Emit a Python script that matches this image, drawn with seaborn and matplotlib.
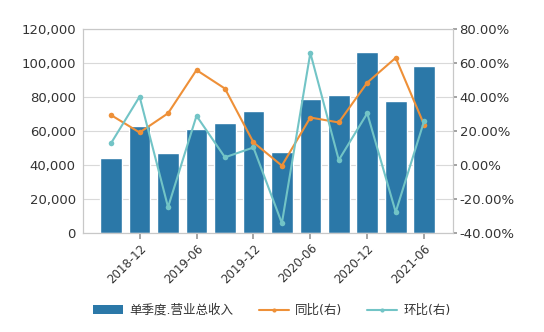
import numpy as np
import pandas as pd
import matplotlib
matplotlib.use("Agg")
import matplotlib.pyplot as plt
import seaborn as sns
from matplotlib.ticker import FuncFormatter
from matplotlib.patches import Patch
from matplotlib.lines import Line2D

quarters = ["2018-09", "2018-12", "2019-03", "2019-06", "2019-09", "2019-12",
            "2020-03", "2020-06", "2020-09", "2020-12", "2021-03", "2021-06"]
revenue = [44500, 63000, 47500, 61500, 64800, 72000,
           47600, 79200, 81500, 106700, 77900, 98300]
yoy = [29.5, 19.3, 30.6, 56.0, 45.1, 13.5, -0.2, 28.1, 25.2, 48.6, 63.2, 23.8]
qoq = [13.1, 40.4, -24.6, 29.1, 4.7, 10.5, -34.0, 66.1, 3.1, 30.6, -27.5, 26.1]
tick_labels = ["2018-12", "2019-06", "2019-12", "2020-06", "2020-12", "2021-06"]

bar_name = "单季度.营业总收入"
yoy_name = "同比(右)"
qoq_name = "环比(右)"

bar_color = "#2b78a8"
orange = "#ee9038"
teal = "#72c4c6"
text_color = "#333333"
grid_color = "#d9d9d9"

sns.set_theme(style="white")
plt.rcParams['font.family'] = ['DejaVu Sans', 'Noto Sans CJK SC']

df = pd.DataFrame({"q": quarters, "idx": np.arange(len(quarters)),
                   "rev": revenue, "yoy": yoy, "qoq": qoq})

fig = plt.figure(figsize=(5.44, 3.32), dpi=100)
ax = fig.add_axes([0.152, 0.297, 0.680, 0.615])

sns.barplot(data=df, x="idx", y="rev", color=bar_color, width=0.76,
            saturation=1, ax=ax, zorder=2)
ax.set_ylim(0, 120000)
ax.set_yticks(np.arange(0, 120001, 20000))
ax.yaxis.set_major_formatter(FuncFormatter(lambda v, p: f"{int(v):,}"))
ax.grid(axis="y", color=grid_color, linewidth=0.8, zorder=0)
ax.set_axisbelow(True)

ax2 = ax.twinx()
sns.lineplot(data=df, x="idx", y="yoy", color=orange, marker="o", markersize=4,
             markeredgewidth=0, linewidth=1.5, ax=ax2)
sns.lineplot(data=df, x="idx", y="qoq", color=teal, marker="o", markersize=4,
             markeredgewidth=0, linewidth=1.5, ax=ax2)
ax2.set_ylim(-40, 80)
ax2.set_yticks(np.arange(-40, 81, 20))
ax2.yaxis.set_major_formatter(FuncFormatter(lambda v, p: f"{v:.2f}%"))

ax.set_xticks(np.arange(1, 12, 2))
ax.set_xticklabels(tick_labels, rotation=45, ha="right", rotation_mode="anchor")
for a in (ax, ax2):
    a.set_xlabel("")
    a.set_ylabel("")
    for s in a.spines.values():
        s.set_color("#c8c8c8")
        s.set_linewidth(0.8)
ax.tick_params(axis="x", length=4, color="#999999", labelsize=8.5,
               labelcolor=text_color, pad=2, direction="out", bottom=True)
ax.tick_params(axis="y", length=3, color="#999999", labelsize=9.5,
               labelcolor=text_color, pad=2, left=False)
ax2.tick_params(axis="y", length=3, color="#999999", labelsize=9.5,
                labelcolor=text_color, pad=2, right=True)

handles = [Patch(facecolor=bar_color, edgecolor="none"),
           Line2D([0], [0], color=orange, linewidth=1.5, marker="o",
                  markersize=3, markeredgewidth=0),
           Line2D([0], [0], color=teal, linewidth=1.5, marker="o",
                  markersize=3, markeredgewidth=0)]
fig.legend(handles, [bar_name, yoy_name, qoq_name], loc="center",
           bbox_to_anchor=(0.5, 0.065), ncol=3, frameon=False, fontsize=9,
           handlelength=2.4, columnspacing=2.0, handletextpad=0.5,
           labelcolor=text_color)

ax.set_xlim(-1.0, 12.0)
ax2.set_xlim(-1.0, 12.0)

fig.savefig("out.png", dpi=100)
